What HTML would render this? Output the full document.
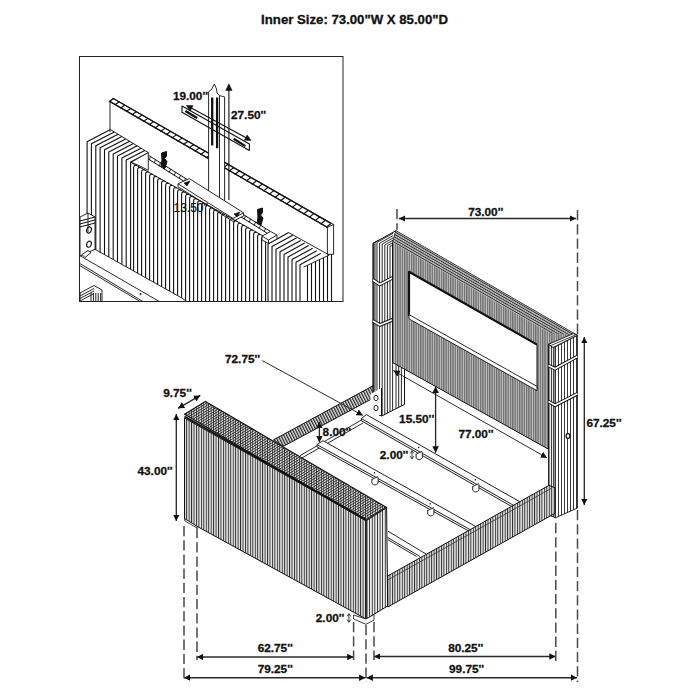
<!DOCTYPE html>
<html><head><meta charset="utf-8">
<style>
html,body{margin:0;padding:0;background:#fff;width:700px;height:700px;overflow:hidden}
svg{display:block}
text{font-family:"Liberation Sans",sans-serif;font-weight:bold;fill:#111;stroke:#111;stroke-width:0.3px}
</style></head><body>
<svg width="700" height="700" viewBox="0 0 700 700">
<defs>
<pattern id="vs" patternUnits="userSpaceOnUse" width="2.6" height="10">
<rect width="2.6" height="10" fill="#d8d8d8"/><rect width="1.1" height="10" fill="#2a2a2a"/>
</pattern>
<pattern id="vsd" patternUnits="userSpaceOnUse" width="2.2" height="10">
<rect width="2.2" height="10" fill="#bbb"/><rect width="1.1" height="10" fill="#222"/>
</pattern>
<pattern id="vsl" patternUnits="userSpaceOnUse" width="4" height="10">
<rect width="4" height="10" fill="#fff"/><rect width="0.9" height="10" fill="#333"/>
</pattern>
<pattern id="ds" patternUnits="userSpaceOnUse" width="2.6" height="10" patternTransform="rotate(31)">
<rect width="2.6" height="10" fill="#d8d8d8"/><rect width="1.1" height="10" fill="#2a2a2a"/>
</pattern>
<pattern id="rs" patternUnits="userSpaceOnUse" width="3" height="10" patternTransform="rotate(20)">
<rect width="3" height="10" fill="#e0e0e0"/><rect width="1.2" height="10" fill="#2a2a2a"/>
</pattern>
<pattern id="insl" patternUnits="userSpaceOnUse" width="4" height="10">
<rect width="4" height="10" fill="#fff"/><rect width="1" height="10" fill="#222"/>
</pattern>
<pattern id="hatch" patternUnits="userSpaceOnUse" width="5" height="10" patternTransform="rotate(30)">
<rect width="5" height="10" fill="#fff"/><rect width="1" height="10" fill="#222"/>
</pattern>
<pattern id="ihatch" patternUnits="userSpaceOnUse" width="4" height="10" patternTransform="rotate(-60)">
<rect width="4" height="10" fill="#fff"/><rect width="1" height="10" fill="#222"/>
</pattern>
<pattern id="ihatch2" patternUnits="userSpaceOnUse" width="4" height="10" patternTransform="rotate(-62)">
<rect width="4" height="10" fill="#fff"/><rect width="1" height="10" fill="#222"/>
</pattern>
<!--pats-->
<pattern id="ppanel" patternUnits="userSpaceOnUse" width="2.3" height="10"><rect width="2.3" height="10" fill="#6e6e6e"/><rect x="0.6" width="0.85" height="10" fill="#cccccc"/></pattern>
<pattern id="pfront" patternUnits="userSpaceOnUse" width="2.45" height="10"><rect width="2.45" height="10" fill="#e6e6e6"/><rect width="0.95" height="10" fill="#2a2a2a"/></pattern>
<pattern id="ppost" patternUnits="userSpaceOnUse" width="3" height="10"><rect width="3" height="10" fill="#fff"/><rect width="0.9" height="10" fill="#222"/></pattern>
<pattern id="ppost2" patternUnits="userSpaceOnUse" width="2.6" height="10"><rect width="2.6" height="10" fill="#f0f0f0"/><rect width="0.9" height="10" fill="#222"/></pattern>
<pattern id="ptop" patternUnits="userSpaceOnUse" width="2.2" height="10" patternTransform="rotate(58.2)"><rect width="2.2" height="10" fill="#f2f2f2"/><rect width="0.9" height="10" fill="#2a2a2a"/></pattern>
<pattern id="prail" patternUnits="userSpaceOnUse" width="2.6" height="10" patternTransform="rotate(-27)"><rect width="2.6" height="10" fill="#e8e8e8"/><rect width="1.25" height="10" fill="#222"/></pattern>
<pattern id="ptopband" patternUnits="userSpaceOnUse" width="2.3" height="10" patternTransform="rotate(-60.1)"><rect x="0" width="0.8" height="10" fill="#2a2a2a"/><rect x="1.15" width="0.8" height="10" fill="#d0d0d0"/></pattern>
<pattern id="pvover" patternUnits="userSpaceOnUse" width="2.45" height="10"><rect width="0.75" height="10" fill="#222"/></pattern>
<!--/pats-->
<marker id="ah" viewBox="0 0 10 10" refX="10" refY="5" markerWidth="6.4" markerHeight="6.6" preserveAspectRatio="none" orient="auto-start-reverse" markerUnits="userSpaceOnUse">
<path d="M0,0 L10,5 L0,10 z" fill="#111"/>
</marker>
</defs>

<!-- Title -->
<text x="354.6" y="23.7" font-size="13.2" text-anchor="middle">Inner Size: 73.00"W X 85.00"D</text>

<!-- ============ INSET ============ -->
<g id="inset">
<rect x="79.5" y="56.5" width="263.5" height="245" fill="#fff" stroke="#222" stroke-width="1"/>
<clipPath id="insclip"><rect x="80" y="57" width="262.5" height="244"/></clipPath>
<g clip-path="url(#insclip)" stroke-linecap="butt" stroke-linejoin="round">
<polygon points="110.0,101.4 112.9,98.3 333.6,224.5 333.6,254.3 327.4,254.3 327.4,227.4 110.0,101.4" fill="#fff" stroke="#111" stroke-width="0.9" />
<line x1="110.0" y1="101.6" x2="327.4" y2="227.4" stroke="#111" stroke-width="1.25"/>
<line x1="112.9" y1="98.3" x2="330.4" y2="223.1" stroke="#111" stroke-width="1.25"/>
<line x1="113.7" y1="98.5" x2="108.8" y2="101.7" stroke="#111" stroke-width="1.15"/>
<line x1="119.4" y1="101.8" x2="114.5" y2="105.0" stroke="#111" stroke-width="1.15"/>
<line x1="125.1" y1="105.1" x2="120.2" y2="108.3" stroke="#111" stroke-width="1.15"/>
<line x1="130.9" y1="108.4" x2="126.0" y2="111.6" stroke="#111" stroke-width="1.15"/>
<line x1="136.6" y1="111.6" x2="131.7" y2="114.9" stroke="#111" stroke-width="1.15"/>
<line x1="142.3" y1="114.9" x2="137.4" y2="118.3" stroke="#111" stroke-width="1.15"/>
<line x1="148.0" y1="118.2" x2="143.1" y2="121.6" stroke="#111" stroke-width="1.15"/>
<line x1="153.8" y1="121.5" x2="148.8" y2="124.9" stroke="#111" stroke-width="1.15"/>
<line x1="159.5" y1="124.8" x2="154.6" y2="128.2" stroke="#111" stroke-width="1.15"/>
<line x1="165.2" y1="128.1" x2="160.3" y2="131.5" stroke="#111" stroke-width="1.15"/>
<line x1="170.9" y1="131.3" x2="166.0" y2="134.8" stroke="#111" stroke-width="1.15"/>
<line x1="176.7" y1="134.6" x2="171.7" y2="138.1" stroke="#111" stroke-width="1.15"/>
<line x1="182.4" y1="137.9" x2="177.5" y2="141.4" stroke="#111" stroke-width="1.15"/>
<line x1="188.1" y1="141.2" x2="183.2" y2="144.7" stroke="#111" stroke-width="1.15"/>
<line x1="193.8" y1="144.5" x2="188.9" y2="148.0" stroke="#111" stroke-width="1.15"/>
<line x1="199.6" y1="147.8" x2="194.6" y2="151.4" stroke="#111" stroke-width="1.15"/>
<line x1="205.3" y1="151.0" x2="200.3" y2="154.7" stroke="#111" stroke-width="1.15"/>
<line x1="211.0" y1="154.3" x2="206.1" y2="158.0" stroke="#111" stroke-width="1.15"/>
<line x1="216.7" y1="157.6" x2="211.8" y2="161.3" stroke="#111" stroke-width="1.15"/>
<line x1="222.4" y1="160.9" x2="217.5" y2="164.6" stroke="#111" stroke-width="1.15"/>
<line x1="228.2" y1="164.2" x2="223.2" y2="167.9" stroke="#111" stroke-width="1.15"/>
<line x1="233.9" y1="167.5" x2="228.9" y2="171.2" stroke="#111" stroke-width="1.15"/>
<line x1="239.6" y1="170.8" x2="234.7" y2="174.5" stroke="#111" stroke-width="1.15"/>
<line x1="245.3" y1="174.0" x2="240.4" y2="177.8" stroke="#111" stroke-width="1.15"/>
<line x1="251.1" y1="177.3" x2="246.1" y2="181.2" stroke="#111" stroke-width="1.15"/>
<line x1="256.8" y1="180.6" x2="251.8" y2="184.5" stroke="#111" stroke-width="1.15"/>
<line x1="262.5" y1="183.9" x2="257.5" y2="187.8" stroke="#111" stroke-width="1.15"/>
<line x1="268.2" y1="187.2" x2="263.3" y2="191.1" stroke="#111" stroke-width="1.15"/>
<line x1="274.0" y1="190.5" x2="269.0" y2="194.4" stroke="#111" stroke-width="1.15"/>
<line x1="279.7" y1="193.7" x2="274.7" y2="197.7" stroke="#111" stroke-width="1.15"/>
<line x1="285.4" y1="197.0" x2="280.4" y2="201.0" stroke="#111" stroke-width="1.15"/>
<line x1="291.1" y1="200.3" x2="286.2" y2="204.3" stroke="#111" stroke-width="1.15"/>
<line x1="296.9" y1="203.6" x2="291.9" y2="207.6" stroke="#111" stroke-width="1.15"/>
<line x1="302.6" y1="206.9" x2="297.6" y2="210.9" stroke="#111" stroke-width="1.15"/>
<line x1="308.3" y1="210.2" x2="303.3" y2="214.3" stroke="#111" stroke-width="1.15"/>
<line x1="314.0" y1="213.4" x2="309.0" y2="217.6" stroke="#111" stroke-width="1.15"/>
<line x1="319.8" y1="216.7" x2="314.8" y2="220.9" stroke="#111" stroke-width="1.15"/>
<line x1="325.5" y1="220.0" x2="320.5" y2="224.2" stroke="#111" stroke-width="1.15"/>
<line x1="331.2" y1="223.3" x2="326.2" y2="227.5" stroke="#111" stroke-width="1.15"/>
<line x1="110.0" y1="101.4" x2="110.0" y2="132.0" stroke="#111" stroke-width="0.9"/>
<line x1="327.4" y1="227.4" x2="333.6" y2="224.5" stroke="#111" stroke-width="0.9"/>
<line x1="148.3" y1="155.2" x2="270.0" y2="231.2" stroke="#111" stroke-width="1.0"/>
<line x1="148.3" y1="159.0" x2="270.0" y2="235.0" stroke="#111" stroke-width="1.0"/>
<line x1="150.6" y1="156.3" x2="149.2" y2="160.1" stroke="#111" stroke-width="0.9"/>
<line x1="155.6" y1="159.4" x2="154.2" y2="163.2" stroke="#111" stroke-width="0.9"/>
<line x1="160.6" y1="162.5" x2="159.2" y2="166.3" stroke="#111" stroke-width="0.9"/>
<line x1="165.6" y1="165.6" x2="164.2" y2="169.4" stroke="#111" stroke-width="0.9"/>
<line x1="170.6" y1="168.8" x2="169.2" y2="172.6" stroke="#111" stroke-width="0.9"/>
<line x1="175.6" y1="171.9" x2="174.2" y2="175.7" stroke="#111" stroke-width="0.9"/>
<line x1="180.6" y1="175.0" x2="179.2" y2="178.8" stroke="#111" stroke-width="0.9"/>
<line x1="185.6" y1="178.1" x2="184.2" y2="181.9" stroke="#111" stroke-width="0.9"/>
<line x1="190.6" y1="181.2" x2="189.2" y2="185.0" stroke="#111" stroke-width="0.9"/>
<line x1="195.6" y1="184.4" x2="194.2" y2="188.2" stroke="#111" stroke-width="0.9"/>
<line x1="200.6" y1="187.5" x2="199.2" y2="191.3" stroke="#111" stroke-width="0.9"/>
<line x1="205.6" y1="190.6" x2="204.2" y2="194.4" stroke="#111" stroke-width="0.9"/>
<line x1="210.6" y1="193.7" x2="209.2" y2="197.5" stroke="#111" stroke-width="0.9"/>
<line x1="215.6" y1="196.9" x2="214.2" y2="200.7" stroke="#111" stroke-width="0.9"/>
<line x1="220.6" y1="200.0" x2="219.2" y2="203.8" stroke="#111" stroke-width="0.9"/>
<line x1="225.6" y1="203.1" x2="224.2" y2="206.9" stroke="#111" stroke-width="0.9"/>
<line x1="230.6" y1="206.2" x2="229.2" y2="210.0" stroke="#111" stroke-width="0.9"/>
<line x1="235.6" y1="209.3" x2="234.2" y2="213.1" stroke="#111" stroke-width="0.9"/>
<line x1="240.6" y1="212.5" x2="239.2" y2="216.3" stroke="#111" stroke-width="0.9"/>
<line x1="245.6" y1="215.6" x2="244.2" y2="219.4" stroke="#111" stroke-width="0.9"/>
<line x1="250.6" y1="218.7" x2="249.2" y2="222.5" stroke="#111" stroke-width="0.9"/>
<line x1="255.6" y1="221.8" x2="254.2" y2="225.6" stroke="#111" stroke-width="0.9"/>
<line x1="260.6" y1="225.0" x2="259.2" y2="228.8" stroke="#111" stroke-width="0.9"/>
<line x1="265.6" y1="228.1" x2="264.2" y2="231.9" stroke="#111" stroke-width="0.9"/>
<polygon points="208.6,91.7 211.5,89.5 214.4,84.0 216.5,89.0 217.0,93.0 219.5,95.6 224.6,96.9 224.6,201.0 208.6,201.0" fill="#fff" stroke="#111" stroke-width="0.9" />
<line x1="219.5" y1="95.6" x2="219.5" y2="201.0" stroke="#111" stroke-width="0.9"/>
<line x1="212.2" y1="97.5" x2="212.2" y2="145.5" stroke="#111" stroke-width="2.3"/>
<line x1="217.1" y1="97.5" x2="217.1" y2="148.3" stroke="#111" stroke-width="2.3"/>
<polygon points="182.0,106.0 249.4,144.1 249.4,150.4 182.0,112.3" fill="none" stroke="#111" stroke-width="1.1" />
<line x1="185.4" y1="110.9" x2="197.1" y2="118.0" stroke="#111" stroke-width="2.3"/>
<line x1="233.7" y1="138.7" x2="245.4" y2="146.1" stroke="#111" stroke-width="2.3"/>
<line x1="228.9" y1="89.0" x2="228.9" y2="200.0" stroke="#111" stroke-width="1.1"/>
<path d="M225.7,90.5 L228.9,83.8 L232.1,90.5 z" fill="#111" stroke="#111" stroke-width="0.5"/>
<line x1="189.5" y1="107.1" x2="247.9" y2="138.7" stroke="#111" stroke-width="1.1"/>
<path d="M186.3,105.4 L193.1,105.6 L190.2,110.9 z" fill="#111" stroke="#111" stroke-width="0.5"/>
<path d="M251.1,140.4 L244.3,140.2 L247.2,134.9 z" fill="#111" stroke="#111" stroke-width="0.5"/>
<polygon points="178.0,183.8 189.3,178.6 243.6,212.8 243.6,215.8 233.0,221.4 178.0,186.8" fill="#fff" stroke="#111" stroke-width="0.9" />
<line x1="178.0" y1="183.8" x2="233.0" y2="218.4" stroke="#111" stroke-width="0.9"/>
<line x1="233.0" y1="218.4" x2="243.6" y2="212.8" stroke="#111" stroke-width="0.9"/>
<path d="M184,183 L190,181 L187,186 z" fill="#111" stroke="#111" stroke-width="0.6"/>
<path d="M234,214 L240,212 L237,217 z" fill="#111" stroke="#111" stroke-width="0.6"/>
<path d="M87.1,215.0 L87.1,141.7 L110.5,129.6" fill="none" stroke="#111" stroke-width="1.1"/>
<path d="M91.4,215.0 L91.4,143.7 L114.3,132.0" fill="none" stroke="#111" stroke-width="1.1"/>
<path d="M95.8,249.7 L95.8,145.8 L118.1,134.3" fill="none" stroke="#111" stroke-width="1.1"/>
<path d="M100.1,252.2 L100.1,147.8 L121.9,136.6" fill="none" stroke="#111" stroke-width="1.1"/>
<path d="M104.5,254.6 L104.5,149.8 L125.7,138.9" fill="none" stroke="#111" stroke-width="1.1"/>
<path d="M108.8,257.1 L108.8,151.9 L129.6,141.2" fill="none" stroke="#111" stroke-width="1.1"/>
<path d="M113.2,259.5 L113.2,153.9 L133.4,143.5" fill="none" stroke="#111" stroke-width="1.1"/>
<path d="M117.5,261.9 L117.5,156.0 L137.2,145.8" fill="none" stroke="#111" stroke-width="1.1"/>
<path d="M121.9,264.4 L121.9,158.0 L141.0,148.2" fill="none" stroke="#111" stroke-width="1.1"/>
<path d="M126.2,266.8 L126.2,160.0 L144.8,150.5" fill="none" stroke="#111" stroke-width="1.1"/>
<path d="M130.6,269.2 L130.6,162.1 L148.6,152.8" fill="none" stroke="#111" stroke-width="1.1"/>
<line x1="110.6" y1="129.7" x2="148.3" y2="152.6" stroke="#111" stroke-width="0.9"/>
<polygon points="131.1,162.3 148.3,152.6 148.3,170.3 140.0,166.0" fill="#fff" stroke="#111" stroke-width="0.9" />
<line x1="131.1" y1="162.4" x2="268.0" y2="238.7" stroke="#111" stroke-width="1.0"/>
<path d="M133.6,270.9 L133.6,168.0 Q133.6,164.4 136.8,165.6" fill="none" stroke="#111" stroke-width="1.1"/>
<path d="M137.6,273.2 L137.6,170.2 Q137.6,166.6 140.8,167.8" fill="none" stroke="#111" stroke-width="1.1"/>
<path d="M141.6,275.4 L141.6,172.5 Q141.6,168.9 144.8,170.0" fill="none" stroke="#111" stroke-width="1.1"/>
<path d="M145.6,277.6 L145.6,174.7 Q145.6,171.1 148.8,172.3" fill="none" stroke="#111" stroke-width="1.1"/>
<path d="M149.6,279.9 L149.6,176.9 Q149.6,173.3 152.8,174.5" fill="none" stroke="#111" stroke-width="1.1"/>
<path d="M153.6,282.1 L153.6,179.1 Q153.6,175.5 156.8,176.7" fill="none" stroke="#111" stroke-width="1.1"/>
<path d="M157.6,284.4 L157.6,181.4 Q157.6,177.8 160.8,179.0" fill="none" stroke="#111" stroke-width="1.1"/>
<path d="M161.6,286.6 L161.6,183.6 Q161.6,180.0 164.8,181.2" fill="none" stroke="#111" stroke-width="1.1"/>
<path d="M165.6,288.8 L165.6,185.8 Q165.6,182.2 168.8,183.4" fill="none" stroke="#111" stroke-width="1.1"/>
<path d="M169.6,291.1 L169.6,188.1 Q169.6,184.5 172.8,185.6" fill="none" stroke="#111" stroke-width="1.1"/>
<path d="M173.6,293.3 L173.6,190.3 Q173.6,186.7 176.8,187.9" fill="none" stroke="#111" stroke-width="1.1"/>
<path d="M177.6,295.6 L177.6,192.5 Q177.6,188.9 180.8,190.1" fill="none" stroke="#111" stroke-width="1.1"/>
<path d="M181.6,297.8 L181.6,194.7 Q181.6,191.1 184.8,192.3" fill="none" stroke="#111" stroke-width="1.1"/>
<path d="M185.6,300.0 L185.6,197.0 Q185.6,193.4 188.8,194.6" fill="none" stroke="#111" stroke-width="1.1"/>
<path d="M189.6,301.5 L189.6,199.2 Q189.6,195.6 192.8,196.8" fill="none" stroke="#111" stroke-width="1.1"/>
<path d="M193.6,301.5 L193.6,201.4 Q193.6,197.8 196.8,199.0" fill="none" stroke="#111" stroke-width="1.1"/>
<path d="M197.6,301.5 L197.6,203.7 Q197.6,200.1 200.8,201.2" fill="none" stroke="#111" stroke-width="1.1"/>
<path d="M201.6,301.5 L201.6,205.9 Q201.6,202.3 204.8,203.5" fill="none" stroke="#111" stroke-width="1.1"/>
<path d="M205.6,301.5 L205.6,208.1 Q205.6,204.5 208.8,205.7" fill="none" stroke="#111" stroke-width="1.1"/>
<path d="M209.6,301.5 L209.6,210.4 Q209.6,206.8 212.8,207.9" fill="none" stroke="#111" stroke-width="1.1"/>
<path d="M213.6,301.5 L213.6,212.6 Q213.6,209.0 216.8,210.2" fill="none" stroke="#111" stroke-width="1.1"/>
<path d="M217.6,301.5 L217.6,214.8 Q217.6,211.2 220.8,212.4" fill="none" stroke="#111" stroke-width="1.1"/>
<path d="M221.6,301.5 L221.6,217.0 Q221.6,213.4 224.8,214.6" fill="none" stroke="#111" stroke-width="1.1"/>
<path d="M225.6,301.5 L225.6,219.3 Q225.6,215.7 228.8,216.9" fill="none" stroke="#111" stroke-width="1.1"/>
<path d="M229.6,301.5 L229.6,221.5 Q229.6,217.9 232.8,219.1" fill="none" stroke="#111" stroke-width="1.1"/>
<path d="M233.6,301.5 L233.6,223.7 Q233.6,220.1 236.8,221.3" fill="none" stroke="#111" stroke-width="1.1"/>
<path d="M237.6,301.5 L237.6,226.0 Q237.6,222.4 240.8,223.5" fill="none" stroke="#111" stroke-width="1.1"/>
<path d="M241.6,301.5 L241.6,228.2 Q241.6,224.6 244.8,225.8" fill="none" stroke="#111" stroke-width="1.1"/>
<path d="M245.6,301.5 L245.6,230.4 Q245.6,226.8 248.8,228.0" fill="none" stroke="#111" stroke-width="1.1"/>
<path d="M249.6,301.5 L249.6,232.6 Q249.6,229.0 252.8,230.2" fill="none" stroke="#111" stroke-width="1.1"/>
<path d="M253.6,301.5 L253.6,234.9 Q253.6,231.3 256.8,232.5" fill="none" stroke="#111" stroke-width="1.1"/>
<path d="M257.6,301.5 L257.6,237.1 Q257.6,233.5 260.8,234.7" fill="none" stroke="#111" stroke-width="1.1"/>
<path d="M261.6,301.5 L261.6,239.3 Q261.6,235.7 264.8,236.9" fill="none" stroke="#111" stroke-width="1.1"/>
<path d="M265.6,301.5 L265.6,241.6 Q265.6,238.0 268.8,239.1" fill="none" stroke="#111" stroke-width="1.1"/>
<path d="M268.0,301.5 L268.0,244.0 L288.7,232.6" fill="none" stroke="#111" stroke-width="1.1"/>
<path d="M272.0,301.5 L272.0,246.6 L292.7,235.2" fill="none" stroke="#111" stroke-width="1.1"/>
<path d="M276.0,301.5 L276.0,249.2 L296.7,237.8" fill="none" stroke="#111" stroke-width="1.1"/>
<path d="M280.0,301.5 L280.0,251.8 L300.7,240.4" fill="none" stroke="#111" stroke-width="1.1"/>
<path d="M284.0,301.5 L284.0,254.4 L304.7,243.0" fill="none" stroke="#111" stroke-width="1.1"/>
<path d="M288.0,301.5 L288.0,257.0 L308.7,245.6" fill="none" stroke="#111" stroke-width="1.1"/>
<path d="M292.0,301.5 L292.0,259.6 L312.7,248.2" fill="none" stroke="#111" stroke-width="1.1"/>
<path d="M296.0,301.5 L296.0,262.2 L316.7,250.8" fill="none" stroke="#111" stroke-width="1.1"/>
<path d="M300.0,301.5 L300.0,264.8 L320.7,253.4" fill="none" stroke="#111" stroke-width="1.1"/>
<line x1="307.5" y1="301.5" x2="307.5" y2="265.3" stroke="#111" stroke-width="1.1"/>
<line x1="311.5" y1="301.5" x2="311.5" y2="263.4" stroke="#111" stroke-width="1.1"/>
<line x1="315.5" y1="301.5" x2="315.5" y2="261.5" stroke="#111" stroke-width="1.1"/>
<line x1="319.5" y1="301.5" x2="319.5" y2="259.6" stroke="#111" stroke-width="1.1"/>
<line x1="323.5" y1="301.5" x2="323.5" y2="257.7" stroke="#111" stroke-width="1.1"/>
<line x1="327.5" y1="301.5" x2="327.5" y2="255.8" stroke="#111" stroke-width="1.1"/>
<line x1="331.5" y1="301.5" x2="331.5" y2="254.0" stroke="#111" stroke-width="1.1"/>
<line x1="303.6" y1="267.1" x2="329.3" y2="255.0" stroke="#111" stroke-width="0.9"/>
<line x1="288.7" y1="232.6" x2="329.3" y2="255.0" stroke="#111" stroke-width="0.9"/>
<polygon points="262.0,236.0 270.5,231.5 277.0,235.0 277.0,239.0 268.5,243.5 262.0,240.0" fill="#fff" stroke="#111" stroke-width="0.9" />
<line x1="262.0" y1="236.0" x2="268.5" y2="240.0" stroke="#111" stroke-width="0.9"/>
<line x1="268.5" y1="240.0" x2="277.0" y2="235.0" stroke="#111" stroke-width="0.9"/>
<line x1="268.5" y1="240.0" x2="268.5" y2="243.5" stroke="#111" stroke-width="0.9"/>
<line x1="95.0" y1="249.3" x2="180.0" y2="297.0" stroke="#111" stroke-width="0.9"/>
<line x1="80.0" y1="255.7" x2="159.3" y2="301.5" stroke="#111" stroke-width="0.9"/>
<line x1="80.0" y1="263.6" x2="142.9" y2="301.5" stroke="#111" stroke-width="0.9"/>
<line x1="80.0" y1="265.7" x2="140.0" y2="301.5" stroke="#111" stroke-width="0.9"/>
<line x1="180.0" y1="297.0" x2="187.0" y2="301.5" stroke="#111" stroke-width="0.9"/>
<polygon points="80.0,226.0 80.0,217.0 88.0,213.0 95.0,217.0 95.0,249.3 80.0,256.0" fill="#fff" stroke="#111" stroke-width="0.9" />
<line x1="80.0" y1="221.0" x2="95.0" y2="217.0" stroke="#111" stroke-width="1.0"/>
<line x1="80.0" y1="224.0" x2="95.0" y2="220.0" stroke="#111" stroke-width="1.0"/>
<line x1="80.0" y1="227.0" x2="95.0" y2="223.0" stroke="#111" stroke-width="1.0"/>
<line x1="88.0" y1="213.0" x2="88.0" y2="232.0" stroke="#111" stroke-width="0.9"/>
<ellipse cx="89.0" cy="230.0" rx="2.3" ry="3.1" fill="none" stroke="#111" stroke-width="1.1" transform="rotate(20 89.0 230.0)"/>
<ellipse cx="89.0" cy="244.2" rx="2.3" ry="3.1" fill="none" stroke="#111" stroke-width="1.1" transform="rotate(20 89.0 244.2)"/>
<path d="M82,254.5 L88,250.5 L91,252.5 L85,257.5 z" fill="#fff" stroke="#111" stroke-width="0.9"/>
<polygon points="80.0,293.0 94.0,285.5 102.0,290.0 102.0,301.5 80.0,301.5" fill="#fff" stroke="#111" stroke-width="0.9" />
<line x1="80.0" y1="296.0" x2="94.0" y2="288.5" stroke="#111" stroke-width="0.9"/>
<line x1="80.0" y1="298.5" x2="94.0" y2="291.0" stroke="#111" stroke-width="0.9"/>
<line x1="80.0" y1="301.0" x2="94.0" y2="293.5" stroke="#111" stroke-width="0.9"/>
<line x1="91.0" y1="293.0" x2="91.0" y2="301.5" stroke="#111" stroke-width="0.9"/>
<line x1="93.4" y1="293.0" x2="93.4" y2="301.5" stroke="#111" stroke-width="0.9"/>
<line x1="95.8" y1="293.0" x2="95.8" y2="301.5" stroke="#111" stroke-width="0.9"/>
<line x1="98.2" y1="293.0" x2="98.2" y2="301.5" stroke="#111" stroke-width="0.9"/>
<line x1="100.6" y1="293.0" x2="100.6" y2="301.5" stroke="#111" stroke-width="0.9"/>
<path d="M140.5,293.5 a0.6,0.6 0 1,0 0.1,0" fill="#111" stroke="#111" stroke-width="0.8"/>
<path d="M161.5,153 L166.5,151.5 L166.5,156 L164.5,158.5 L167,161.5 L165,168 L161,166.5 L162,160 z" fill="#111" stroke="#111" stroke-width="1"/>
<path d="M257.5,209.5 L262.5,208 L262.5,212.5 L260.5,215 L263,218 L261,225 L257,223.5 L258,217 z" fill="#111" stroke="#111" stroke-width="1"/>
</g>
<text x="172.9" y="100" font-size="11.8">19.00''</text>
<text x="231" y="119" font-size="11.8">27.50''</text>
<text x="173.5" y="211.5" font-size="12" style="font-weight:normal;stroke-width:0.15px">13.50''</text>
</g><!--/inset-->

<!-- ============ MAIN BED ============ -->
<g id="bed" stroke-linejoin="round">
<polygon points="273.6,439.8 380.0,382.0 380.0,394.5 283.4,446.3" fill="url(#prail)" stroke="#111" stroke-width="1.0"/>
<polygon points="373.1,243.3 378.3,240.3 378.3,413.0 373.1,410.0" fill="url(#ppanel)" stroke="#111" stroke-width="0.9"/>
<polygon points="376.2,242.0 395.9,230.7 404.0,237.5 404.0,404.6 381.7,416.0 378.3,414.0 376.2,413.0" fill="#fff" stroke="none" stroke-width="0.0"/>
<line x1="396.0" y1="360.0" x2="396.0" y2="408.7" stroke="#111" stroke-width="0.9" />
<line x1="398.7" y1="360.0" x2="398.7" y2="407.3" stroke="#111" stroke-width="0.9" />
<line x1="401.4" y1="360.0" x2="401.4" y2="405.9" stroke="#111" stroke-width="0.9" />
<path d="M377.0,416.0 L377.0,242.4 L393.1,233.3" fill="none" stroke="#111" stroke-width="0.9"/>
<path d="M379.6,416.0 L379.6,243.2 L393.1,235.6" fill="none" stroke="#111" stroke-width="0.9"/>
<path d="M382.2,415.7 L382.2,244.0 L393.1,237.9" fill="none" stroke="#111" stroke-width="0.9"/>
<path d="M384.8,414.4 L384.8,244.9 L393.1,240.2" fill="none" stroke="#111" stroke-width="0.9"/>
<path d="M387.4,413.1 L387.4,245.7 L393.1,242.5" fill="none" stroke="#111" stroke-width="0.9"/>
<path d="M390.0,411.8 L390.0,246.5 L393.1,244.8" fill="none" stroke="#111" stroke-width="0.9"/>
<path d="M392.6,410.4 L392.6,247.4 L393.1,247.1" fill="none" stroke="#111" stroke-width="0.9"/>
<polyline points="373.1,410.0 373.1,243.3 395.9,230.7" fill="none" stroke="#111" stroke-width="1.0"/>
<polyline points="404.5,367.0 404.5,404.4 381.7,416.0 373.1,411.0" fill="none" stroke="#111" stroke-width="1.0"/>
<polyline points="373.1,280.0 379.8,284.5 393.1,277.5" fill="none" stroke="#111" stroke-width="3.6"/>
<polyline points="373.1,280.0 379.8,284.5 393.1,277.5" fill="none" stroke="#fff" stroke-width="1.6"/>
<polyline points="373.1,321.0 379.8,325.0 393.1,319.5" fill="none" stroke="#111" stroke-width="3.6"/>
<polyline points="373.1,321.0 379.8,325.0 393.1,319.5" fill="none" stroke="#fff" stroke-width="1.6"/>
<polygon points="392.5,242.5 395.9,230.7 577.4,335.3 548.5,344.3 548.5,449.2 392.5,362.5" fill="url(#ppanel)" stroke="#111" stroke-width="1.0"/>
<polygon points="392.5,242.5 395.9,230.7 577.4,335.3 548.5,333.0" fill="url(#ptopband)" stroke="none" stroke-width="0.0"/>
<polygon points="409.0,271.8 537.0,344.6 537.0,389.6 409.0,315.7" fill="#fff" stroke="#111" stroke-width="1.0"/>
<polyline points="409.0,315.7 409.0,271.8 537.0,344.6" fill="none" stroke="#111" stroke-width="2.2"/>
<polygon points="409.0,314.6 537.0,386.4 537.0,390.7 409.0,318.9" fill="#fff" stroke="#111" stroke-width="0.9"/>
<polygon points="548.5,344.3 554.0,347.5 554.0,517.0 548.5,515.0" fill="url(#ppost2)" stroke="#111" stroke-width="0.9"/>
<polygon points="554.0,347.5 577.4,335.3 577.4,508.0 555.0,518.0 554.0,517.0" fill="url(#ppost)" stroke="#111" stroke-width="0.9"/>
<polygon points="548.5,344.3 573.5,333.6 577.4,335.3 553.0,347.5" fill="#fff" stroke="#111" stroke-width="0.9"/>
<line x1="551.0" y1="345.5" x2="575.5" y2="335.0" stroke="#111" stroke-width="0.8" />
<polyline points="548.5,365.5 555.0,368.7 577.4,356.5" fill="none" stroke="#111" stroke-width="3.6"/>
<polyline points="548.5,365.5 555.0,368.7 577.4,356.5" fill="none" stroke="#fff" stroke-width="1.6"/>
<polyline points="548.5,401.5 555.0,405.3 577.4,393.8" fill="none" stroke="#111" stroke-width="3.6"/>
<polyline points="548.5,401.5 555.0,405.3 577.4,393.8" fill="none" stroke="#fff" stroke-width="1.6"/>
<ellipse cx="568" cy="436" rx="1.9" ry="2.3" fill="#fff" stroke="#111" stroke-width="1.3"/>
<polygon points="370.5,394.0 381.5,388.0 381.5,414.0 370.5,420.0" fill="#fff" stroke="none" stroke-width="0"/>
<line x1="381.5" y1="388.0" x2="381.5" y2="416.0" stroke="#111" stroke-width="1.0" />
<ellipse cx="376" cy="398" rx="2.1" ry="2.7" fill="#fff" stroke="#111" stroke-width="0.9"/>
<ellipse cx="376" cy="408" rx="2.1" ry="2.7" fill="#fff" stroke="#111" stroke-width="0.9"/>
<line x1="300.0" y1="455.7" x2="361.4" y2="420.0" stroke="#111" stroke-width="0.9" />
<line x1="300.0" y1="459.0" x2="363.0" y2="423.0" stroke="#111" stroke-width="0.9" />
<polygon points="361.4,418.6 366.4,414.6 525.0,504.7 525.0,514.1 361.4,420.8" fill="#fff" stroke="#111" stroke-width="0.95"/>
<line x1="361.4" y1="418.6" x2="525.0" y2="511.9" stroke="#111" stroke-width="0.95" />
<polygon points="317.0,444.6 323.0,440.7 480.0,528.9 480.0,537.3 317.0,446.8" fill="#fff" stroke="#111" stroke-width="0.95"/>
<line x1="317.0" y1="444.6" x2="480.0" y2="535.1" stroke="#111" stroke-width="0.95" />
<line x1="387.7" y1="531.0" x2="426.0" y2="554.0" stroke="#111" stroke-width="0.9" />
<line x1="387.7" y1="537.5" x2="420.0" y2="556.5" stroke="#111" stroke-width="0.9" />
<line x1="387.7" y1="539.5" x2="416.5" y2="556.5" stroke="#111" stroke-width="0.9" />
<path d="M416.1,453.7 L416.1,458.0 Q419.2,461.3 422.3,458.0 L422.3,452.1" fill="#fff" stroke="#111" stroke-width="0.9"/>
<line x1="416.1" y1="454.3" x2="422.3" y2="451.1" stroke="#111" stroke-width="0.8" />
<circle cx="418.7" cy="447.5" r="0.75" fill="#111"/>
<path d="M472.7,486.0 L472.7,490.3 Q475.8,493.6 478.9,490.3 L478.9,484.4" fill="#fff" stroke="#111" stroke-width="0.9"/>
<line x1="472.7" y1="486.6" x2="478.9" y2="483.4" stroke="#111" stroke-width="0.8" />
<circle cx="475.3" cy="479.8" r="0.75" fill="#111"/>
<path d="M427.7,510.0 L427.7,514.3 Q430.8,517.6 433.9,514.3 L433.9,508.4" fill="#fff" stroke="#111" stroke-width="0.9"/>
<line x1="427.7" y1="510.6" x2="433.9" y2="507.4" stroke="#111" stroke-width="0.8" />
<circle cx="430.3" cy="503.8" r="0.75" fill="#111"/>
<path d="M371.9,479.0 L371.9,483.3 Q375.0,486.6 378.1,483.3 L378.1,477.4" fill="#fff" stroke="#111" stroke-width="0.9"/>
<line x1="371.9" y1="479.6" x2="378.1" y2="476.4" stroke="#111" stroke-width="0.8" />
<circle cx="374.5" cy="472.8" r="0.75" fill="#111"/>
<polygon points="387.7,576.0 549.0,485.3 555.0,488.0 555.0,513.3 387.7,607.0" fill="url(#pfront)" stroke="#111" stroke-width="1.0"/>
<line x1="387.7" y1="580.0" x2="551.0" y2="488.5" stroke="#333" stroke-width="0.8" />
<polygon points="366.0,520.6 386.6,507.4 387.7,606.0 366.0,619.0" fill="url(#ppost2)" stroke="#111" stroke-width="1.0"/>
<polygon points="184.5,418.0 366.0,520.6 366.0,619.0 197.0,526.3 184.5,518.6" fill="url(#pfront)" stroke="#111" stroke-width="1.0"/>
<polygon points="184.5,414.3 205.4,401.4 386.6,507.4 366.0,520.6" fill="url(#ptop)" stroke="#111" stroke-width="1.2"/>
<polygon points="184.5,414.3 205.4,401.4 386.6,507.4 366.0,520.6" fill="url(#pvover)" stroke="none" stroke-width="0"/>
<line x1="184.5" y1="416.5" x2="366.0" y2="519.6" stroke="#111" stroke-width="2.0" />
<polygon points="184.5,518.6 197.0,526.3 197.0,528.0 185.0,521.0" fill="#fff" stroke="#111" stroke-width="0.8"/>
<polygon points="353.6,615.0 366.0,619.0 374.0,614.5 374.0,620.0 366.0,624.3 353.6,619.0" fill="#fff" stroke="#111" stroke-width="0.8"/>
</g><!--/bed-->

<!-- dimension lines -->
<g stroke="#2a2a2a" stroke-width="1.35" fill="none">
<line x1="262.3" y1="360.6" x2="362.9" y2="415.4" stroke-width="1" marker-end="url(#ah)"/>
<line x1="393.4" y1="370.6" x2="547.1" y2="457.9" marker-start="url(#ah)" marker-end="url(#ah)" stroke-width="1"/>
<line x1="435.6" y1="386.6" x2="435.6" y2="452.7" marker-start="url(#ah)" marker-end="url(#ah)"/>
<line x1="319.4" y1="421.8" x2="319.4" y2="442.3" marker-start="url(#ah)" marker-end="url(#ah)"/>
<line x1="178" y1="408.3" x2="200.3" y2="395.4" marker-start="url(#ah)" marker-end="url(#ah)"/>
<path d="M412,451 L412,458.5 M410.2,453.4 L412,450.6 L413.8,453.4 M410.2,456.2 L412,459 L413.8,456.2" stroke-width="0.9"/>
<path d="M348.9,614 L348.9,622 M347.1,616.4 L348.9,613.6 L350.7,616.4 M347.1,619.6 L348.9,622.4 L350.7,619.6" stroke-width="0.9"/>
<line x1="399" y1="218.5" x2="576" y2="218.5" marker-start="url(#ah)" marker-end="url(#ah)"/>
<line x1="584.3" y1="337" x2="584.3" y2="505" marker-start="url(#ah)" marker-end="url(#ah)"/>
<line x1="176.3" y1="414" x2="176.3" y2="521" marker-start="url(#ah)" marker-end="url(#ah)"/>
<line x1="197" y1="657" x2="353.6" y2="657" marker-start="url(#ah)" marker-end="url(#ah)"/>
<line x1="184" y1="677.7" x2="365.5" y2="677.7" marker-start="url(#ah)" marker-end="url(#ah)"/>
<line x1="374" y1="656.5" x2="555.7" y2="656.5" marker-start="url(#ah)" marker-end="url(#ah)"/>
<line x1="366.5" y1="677.7" x2="577" y2="677.7" marker-start="url(#ah)" marker-end="url(#ah)"/>
</g>
<g stroke="#4a4a4a" stroke-width="1.5" stroke-dasharray="10.3,3.9" fill="none">
<line x1="397" y1="209" x2="397" y2="230"/>
<line x1="577.5" y1="210" x2="577.5" y2="334"/>
<line x1="577.5" y1="510" x2="577.5" y2="682"/>
<line x1="555.8" y1="523" x2="555.8" y2="662"/>
<line x1="184" y1="526" x2="184" y2="682"/>
<line x1="197" y1="528" x2="197" y2="660"/>
<line x1="353.6" y1="622" x2="353.6" y2="660"/>
<line x1="366" y1="625" x2="366" y2="682"/>
<line x1="374" y1="622" x2="374" y2="660"/>
</g>

<!-- labels -->
<g font-size="11.8">
<text x="485.7" y="215.5" text-anchor="middle">73.00''</text>
<text x="586.4" y="426.5">67.25''</text>
<text x="137.5" y="475">43.00''</text>
<text x="163.2" y="397.3">9.75''</text>
<text x="225" y="362.5">72.75''</text>
<text x="399.1" y="423.2">15.50''</text>
<text x="458.4" y="438.2">77.00''</text>
<text x="379.8" y="459.2">2.00''</text>
<text x="322.6" y="435.5">8.00''</text>
<text x="315.8" y="621.8">2.00''</text>
<text x="275.2" y="652" text-anchor="middle">62.75''</text>
<text x="275.2" y="673" text-anchor="middle">79.25''</text>
<text x="465.7" y="652" text-anchor="middle">80.25''</text>
<text x="466.6" y="673.3" text-anchor="middle">99.75''</text>
</g>
</svg>
</body></html>
